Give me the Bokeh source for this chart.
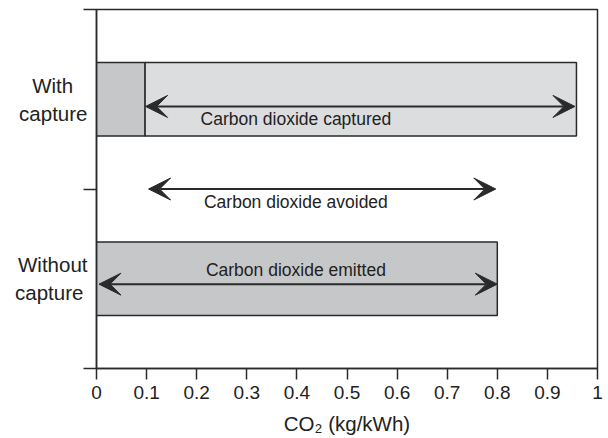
from bokeh.plotting import figure
from bokeh.models import Range1d, FixedTicker, Arrow, VeeHead, ColumnDataSource
from bokeh.core.properties import value
from bokeh.embed import file_html
from bokeh.resources import INLINE

# ---- data ----
# (en/thin spaces pad the shorter line so the two lines appear centred)
categories = ["Without\ncapture\u2009", "With\u2002\u2009\ncapture"]
cat_pos = [0.5, 1.5]
with_emitted = 0.097        # residual CO2 emitted with capture
with_total = 0.958          # total CO2 produced with capture
without_emitted = 0.8       # CO2 emitted without capture
x_ticks = [0, 0.1, 0.2, 0.3, 0.4, 0.5, 0.6, 0.7, 0.8, 0.9, 1]
x_tick_labels = ["0", "0.1", "0.2", "0.3", "0.4", "0.5", "0.6", "0.7", "0.8", "0.9", "1"]
arrow_names = ["Carbon dioxide captured", "Carbon dioxide avoided", "Carbon dioxide emitted"]
arrow_start = [0.098, 0.104, 0.005]
arrow_end = [0.955, 0.797, 0.8]
arrow_y = [1.46, 1.0, 0.47]
label_x = [0.398, 0.398, 0.398]
label_y = [1.39, 0.93, 0.55]

FONT = "Liberation Sans"
LINE = "#2a2a2a"
DARK = "#c6c7c9"
LIGHT = "#dcdddf"

p = figure(width=608, height=438, x_range=Range1d(0, 1), y_range=Range1d(0, 2),
           output_backend="svg", toolbar_location=None,
           min_border_left=96, min_border_right=11, min_border_top=9, min_border_bottom=70)

p.xgrid.visible = False
p.ygrid.visible = False
p.outline_line_color = LINE
p.outline_line_width = 1.5
p.outline_line_alpha = 1.0
p.background_fill_color = "white"
p.border_fill_color = "white"

# x axis
xa = p.xaxis[0]
xa.ticker = FixedTicker(ticks=x_ticks)
xa.major_label_overrides = {t: l for t, l in zip(x_ticks, x_tick_labels)}
xa.major_tick_in = 0
xa.major_tick_out = 11
xa.minor_tick_in = 0
xa.minor_tick_out = 0
xa.axis_line_color = LINE
xa.axis_line_width = 1.5
xa.major_tick_line_color = LINE
xa.major_tick_line_width = 1.5
xa.major_label_text_font = FONT
xa.major_label_text_font_size = "19px"
xa.major_label_text_color = "#222222"
xa.major_label_standoff = 6
xa.axis_label = "CO₂ (kg/kWh)"
xa.axis_label_text_font = FONT
xa.axis_label_text_font_size = "20.5px"
xa.axis_label_text_font_style = "normal"
xa.axis_label_text_color = "#222222"
xa.axis_label_standoff = 10

# y axis: category labels as major ticks (no tick marks), boundaries as minor ticks
ya = p.yaxis[0]
ya.ticker = FixedTicker(ticks=cat_pos, minor_ticks=[0, 1, 2])
ya.major_label_overrides = {pos: name for pos, name in zip(cat_pos, categories)}
ya.major_tick_in = 0
ya.major_tick_out = 0
ya.minor_tick_in = 0
ya.minor_tick_out = 13
ya.axis_line_color = LINE
ya.axis_line_width = 1.5
ya.minor_tick_line_color = LINE
ya.minor_tick_line_width = 1.5
ya.major_label_text_font = FONT
ya.major_label_text_font_size = "20.5px"
ya.major_label_text_color = "#222222"
ya.major_label_standoff = -4

# bars
bar_h = 0.41
p.hbar(y=[cat_pos[1]], left=[0], right=[with_emitted], height=bar_h,
       fill_color=DARK, line_color=LINE, line_width=1.5)
p.hbar(y=[cat_pos[1]], left=[with_emitted], right=[with_total], height=bar_h,
       fill_color=LIGHT, line_color=LINE, line_width=1.5)
p.hbar(y=[cat_pos[0]], left=[0], right=[without_emitted], height=bar_h,
       fill_color=DARK, line_color=LINE, line_width=1.5)

# arrows
for xs, xe, yy in zip(arrow_start, arrow_end, arrow_y):
    p.add_layout(Arrow(
        start=VeeHead(size=22, fill_color=LINE, line_color=LINE, line_width=1),
        end=VeeHead(size=22, fill_color=LINE, line_color=LINE, line_width=1),
        x_start=xs, y_start=yy, x_end=xe, y_end=yy,
        line_color=LINE, line_width=2))

src = ColumnDataSource(dict(x=label_x, y=label_y, t=arrow_names))
p.text(x="x", y="y", text="t", source=src, text_align="center", text_baseline="middle",
       text_font=value(FONT), text_font_size="17.5px", text_color="#222222")

open("out.html", "w").write(file_html(p, INLINE))
